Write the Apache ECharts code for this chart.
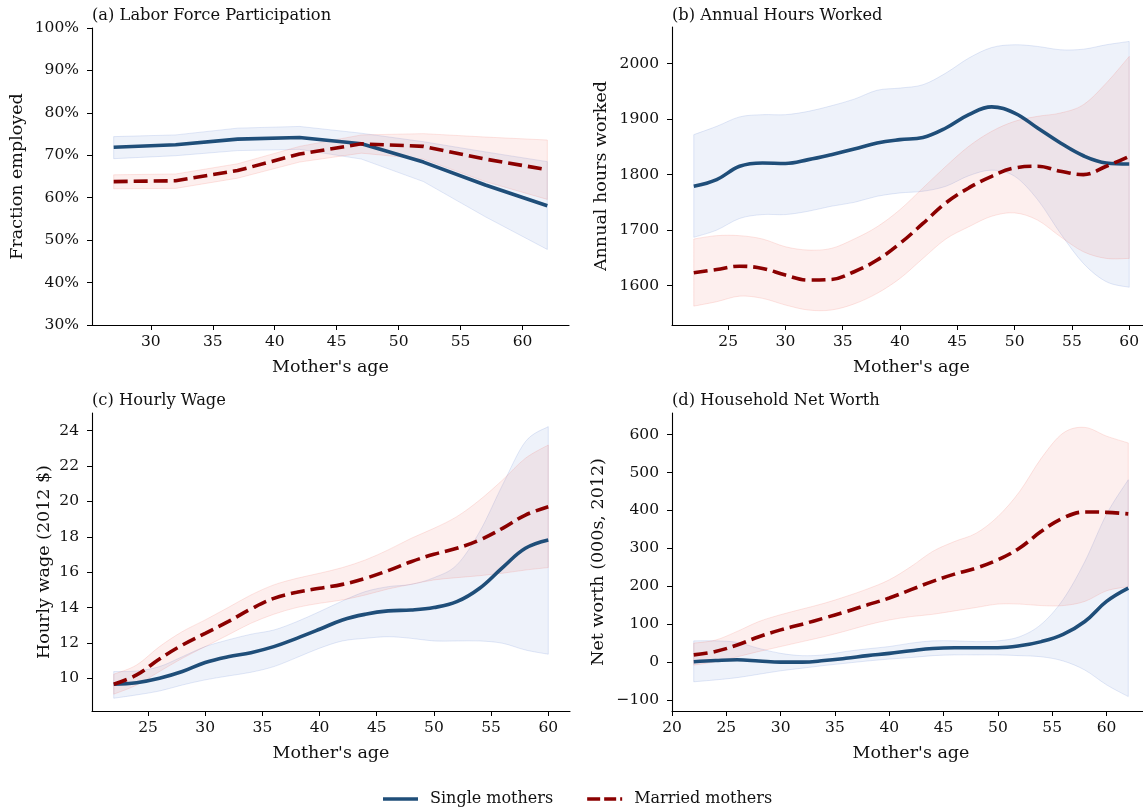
<!DOCTYPE html>
<html>
<head>
<meta charset="utf-8">
<script src="https://cdn.jsdelivr.net/npm/echarts@6/dist/echarts.min.js"></script>
<style>
  html, body { margin: 0; padding: 0; background: #fff; }
  #chart { width: 1143px; height: 809px; }
</style>
</head>
<body>
<div id="chart"></div>
<script>
// ---- (a) Labor force participation, percent, by mother's age ----
const agesA = [27, 32, 37, 42, 47, 52, 57, 62];
const lfpSingle   = [71.9, 72.5, 73.8, 74.2, 72.7, 68.4, 63.0, 58.1];
const lfpSingleLo = [69.2, 69.9, 71.1, 71.4, 69.1, 63.8, 55.5, 47.8];
const lfpSingleHi = [74.4, 74.8, 76.4, 76.8, 75.2, 73.2, 70.8, 68.5];
const lfpMarried   = [63.8, 64.0, 66.4, 70.3, 72.7, 72.1, 69.1, 66.6];
const lfpMarriedLo = [62.1, 62.2, 64.6, 68.4, 70.5, 69.1, 63.8, 59.6];
const lfpMarriedHi = [65.4, 65.6, 68.0, 72.1, 74.8, 75.1, 74.3, 73.6];

// ---- (b) Annual hours worked ----
const agesB = [22, 24, 26, 28, 30, 32, 34, 36, 38, 40, 42, 44, 46, 48, 50, 52, 54, 56, 58, 60];
const hoursSingle   = [1779, 1791, 1815, 1821, 1820, 1827, 1836, 1846, 1857, 1863, 1867, 1884, 1908, 1922, 1911, 1884, 1857, 1834, 1821, 1819];
const hoursSingleLo = [1687, 1700, 1721, 1728, 1728, 1734, 1743, 1750, 1761, 1767, 1770, 1779, 1798, 1808, 1797, 1755, 1694, 1640, 1607, 1597];
const hoursSingleHi = [1872, 1887, 1904, 1908, 1908, 1914, 1924, 1936, 1952, 1956, 1962, 1983, 2010, 2029, 2034, 2031, 2025, 2026, 2034, 2040];
const hoursMarried   = [1623, 1629, 1635, 1631, 1619, 1610, 1611, 1625, 1646, 1676, 1712, 1749, 1776, 1797, 1812, 1815, 1806, 1800, 1815, 1833];
const hoursMarriedLo = [1563, 1571, 1581, 1577, 1565, 1556, 1556, 1567, 1586, 1613, 1649, 1684, 1706, 1725, 1731, 1718, 1688, 1661, 1649, 1649];
const hoursMarriedHi = [1684, 1690, 1690, 1684, 1670, 1664, 1667, 1684, 1706, 1737, 1776, 1815, 1851, 1878, 1896, 1905, 1911, 1926, 1965, 2013];

// ---- (c) Hourly wage, 2012 dollars ----
const agesC = [22, 24, 26, 28, 30, 32, 34, 36, 38, 40, 42, 44, 46, 48, 50, 52, 54, 56, 58, 60];
const wageSingle   = [9.66, 9.75, 10.0, 10.38, 10.89, 11.22, 11.45, 11.79, 12.26, 12.77, 13.30, 13.62, 13.81, 13.86, 14.0, 14.33, 15.09, 16.26, 17.35, 17.82];
const wageSingleLo = [8.87, 9.06, 9.28, 9.62, 9.91, 10.13, 10.34, 10.66, 11.17, 11.70, 12.11, 12.26, 12.35, 12.26, 12.11, 12.11, 12.11, 11.98, 11.60, 11.36];
const wageSingleHi = [10.38, 10.41, 10.66, 11.22, 11.79, 12.17, 12.49, 12.73, 13.20, 13.77, 14.37, 14.90, 15.18, 15.31, 15.69, 16.41, 18.29, 20.93, 23.38, 24.23];
const wageMarried   = [9.66, 10.19, 11.09, 11.88, 12.54, 13.20, 13.92, 14.52, 14.86, 15.09, 15.31, 15.65, 16.09, 16.59, 17.01, 17.35, 17.82, 18.48, 19.23, 19.70];
const wageMarriedLo = [9.10, 9.62, 10.38, 11.13, 11.79, 12.45, 13.11, 13.62, 14.0, 14.24, 14.43, 14.71, 15.05, 15.31, 15.56, 15.69, 15.80, 15.94, 16.12, 16.26];
const wageMarriedHi = [10.23, 10.75, 11.79, 12.64, 13.30, 14.0, 14.71, 15.28, 15.65, 15.94, 16.26, 16.69, 17.26, 17.91, 18.48, 19.14, 20.08, 21.21, 22.44, 23.19];

// ---- (d) Household net worth, thousands of 2012 dollars ----
const agesD = [22, 24, 26, 28, 30, 32, 34, 36, 38, 40, 42, 44, 46, 48, 50, 52, 54, 56, 58, 60, 62];
const worthSingle   = [1, 4, 6, 3, 0, 0, 4, 10, 17, 23, 30, 36, 38, 38, 38, 43, 54, 73, 107, 160, 195];
const worthSingleLo = [-52, -47, -41, -32, -23, -16, -9, -3, 3, 8, 12, 17, 19, 19, 19, 17, 14, 3, -21, -60, -91];
const worthSingleHi = [56, 56, 52, 36, 23, 17, 19, 28, 35, 41, 50, 56, 56, 54, 56, 67, 100, 165, 265, 390, 481];
const worthMarried   = [19, 28, 45, 67, 85, 100, 116, 133, 151, 169, 191, 213, 232, 248, 270, 301, 345, 380, 396, 395, 391];
const worthMarriedLo = [-8, 1, 14, 28, 41, 54, 67, 82, 98, 111, 120, 126, 135, 144, 153, 153, 149, 149, 160, 188, 199];
const worthMarriedHi = [50, 58, 81, 107, 125, 140, 155, 173, 193, 217, 252, 292, 318, 340, 384, 450, 538, 604, 619, 596, 578];

// ---- tick values ----
const ticksXA = [30, 35, 40, 45, 50, 55, 60];
const ticksXB = [25, 30, 35, 40, 45, 50, 55, 60];
const ticksXD = [20, 25, 30, 35, 40, 45, 50, 55, 60];
const ticksYA = [30, 40, 50, 60, 70, 80, 90, 100];
const ticksYB = [1600, 1700, 1800, 1900, 2000];
const ticksYC = [10, 12, 14, 16, 18, 20, 22, 24];
const ticksYD = [-100, 0, 100, 200, 300, 400, 500, 600];

const titles = ['(a) Labor Force Participation', '(b) Annual Hours Worked', '(c) Hourly Wage', '(d) Household Net Worth'];
const yNames = ['Fraction employed', 'Annual hours worked', 'Hourly wage (2012 $)', 'Net worth (000s, 2012)'];

const FONT = "'DejaVu Serif', serif";
const BLUE = '#1f4e79';
const RED = '#8b0000';
const BLUE_FILL = 'rgba(70, 110, 200, 0.09)';
const BLUE_EDGE = 'rgba(70, 110, 200, 0.15)';
const RED_FILL = 'rgba(240, 100, 90, 0.10)';
const RED_EDGE = 'rgba(240, 100, 90, 0.16)';

const pairs = (xs, ys) => xs.map((x, i) => [x, ys[i]]);
const minus = v => (v < 0 ? '\u2212' + Math.abs(v) : String(v));

// Path through pixel points: straight segments, or Catmull-Rom curves when smooth.
function tracePath(pts, smooth, start) {
  let d = (start ? 'M' : 'L') + pts[0][0] + ',' + pts[0][1];
  for (let i = 0; i < pts.length - 1; i++) {
    const p0 = pts[i - 1] || pts[i], p1 = pts[i], p2 = pts[i + 1], p3 = pts[i + 2] || pts[i + 1];
    if (!smooth) { d += 'L' + p2[0] + ',' + p2[1]; continue; }
    const c1 = [p1[0] + (p2[0] - p0[0]) / 6, p1[1] + (p2[1] - p0[1]) / 6];
    const c2 = [p2[0] - (p3[0] - p1[0]) / 6, p2[1] - (p3[1] - p1[1]) / 6];
    d += 'C' + c1[0] + ',' + c1[1] + ',' + c2[0] + ',' + c2[1] + ',' + p2[0] + ',' + p2[1];
  }
  return d;
}

// Confidence band between lo and hi, drawn as one filled shape.
function band(idx, xs, lo, hi, fill, edge, smooth) {
  return {
    type: 'custom', xAxisIndex: idx, yAxisIndex: idx, silent: true, z: 1, clip: true,
    data: xs.map((x, i) => [x, lo[i], hi[i]]),
    encode: { x: 0, y: [1, 2] },
    renderItem: (params, api) => {
      if (params.dataIndex !== 0) return null;
      const upper = xs.map((x, i) => api.coord([x, hi[i]]));
      const lower = xs.map((x, i) => api.coord([x, lo[i]])).reverse();
      const d = tracePath(upper, smooth, true) + tracePath(lower, smooth, false) + 'Z';
      return { type: 'path', shape: { pathData: d }, style: { fill: fill, stroke: edge, lineWidth: 1 } };
    }
  };
}

function curve(idx, xs, ys, single, smooth) {
  return {
    name: single ? 'Single mothers' : 'Married mothers',
    type: 'line', xAxisIndex: idx, yAxisIndex: idx, symbol: 'none', smooth: smooth, z: single ? 3 : 4,
    data: pairs(xs, ys),
    lineStyle: single
      ? { color: BLUE, width: 3.6 }
      : { color: RED, width: 3.6, type: [14, 6], cap: 'butt' },
    itemStyle: { color: single ? BLUE : RED }
  };
}

const gridBoxes = [
  { left: 92, top: 28, width: 477, height: 297 },
  { left: 672, top: 27, width: 479, height: 298 },
  { left: 92, top: 413, width: 478, height: 298 },
  { left: 672, top: 413, width: 478, height: 298 }
];
const xRanges = [[25.25, 63.75], [20.1, 61.9], [20.1, 61.9], [20, 64]];
const yRanges = [[30, 100], [1529, 2066], [8.15, 25.0], [-129, 657]];
const xTicks = [ticksXA, ticksXB, ticksXB, ticksXD];
const yTicks = [ticksYA, ticksYB, ticksYC, ticksYD];
const yFormat = [v => v + '%', v => String(v), v => String(v), minus];
const yNameGaps = [66, 62, 39, 65];

const tickLabel = { fontFamily: FONT, fontSize: 15.5, color: '#111' };
const nameStyle = { fontFamily: FONT, fontSize: 17.5, color: '#111' };

const xAxes = gridBoxes.map((g, i) => ({
  type: 'value', gridIndex: i, min: xRanges[i][0], max: xRanges[i][1],
  name: "Mother's age", nameLocation: 'middle', nameGap: 33, nameTextStyle: nameStyle,
  axisLine: { show: true, onZero: false, lineStyle: { color: '#000', width: 1.1 } },
  axisTick: { show: true, length: 5, customValues: xTicks[i], lineStyle: { color: '#000', width: 1 } },
  axisLabel: Object.assign({ margin: 9, customValues: xTicks[i], formatter: v => String(v) }, tickLabel),
  splitLine: { show: false }
}));

const yAxes = gridBoxes.map((g, i) => ({
  type: 'value', gridIndex: i, min: yRanges[i][0], max: yRanges[i][1],
  name: yNames[i], nameLocation: 'middle', nameGap: yNameGaps[i], nameRotate: 90, nameTextStyle: nameStyle,
  axisLine: { show: true, onZero: false, lineStyle: { color: '#000', width: 1.1 } },
  axisTick: { show: true, length: 5, customValues: yTicks[i], lineStyle: { color: '#000', width: 1 } },
  axisLabel: Object.assign({ margin: 13, customValues: yTicks[i], formatter: yFormat[i] }, tickLabel),
  splitLine: { show: false }
}));

const series = [].concat(
  band(0, agesA, lfpSingleLo, lfpSingleHi, BLUE_FILL, BLUE_EDGE, false),
  band(0, agesA, lfpMarriedLo, lfpMarriedHi, RED_FILL, RED_EDGE, false),
  [curve(0, agesA, lfpSingle, true, false), curve(0, agesA, lfpMarried, false, false)],
  band(1, agesB, hoursSingleLo, hoursSingleHi, BLUE_FILL, BLUE_EDGE, true),
  band(1, agesB, hoursMarriedLo, hoursMarriedHi, RED_FILL, RED_EDGE, true),
  [curve(1, agesB, hoursSingle, true, 0.4), curve(1, agesB, hoursMarried, false, 0.4)],
  band(2, agesC, wageSingleLo, wageSingleHi, BLUE_FILL, BLUE_EDGE, true),
  band(2, agesC, wageMarriedLo, wageMarriedHi, RED_FILL, RED_EDGE, true),
  [curve(2, agesC, wageSingle, true, 0.4), curve(2, agesC, wageMarried, false, 0.4)],
  band(3, agesD, worthSingleLo, worthSingleHi, BLUE_FILL, BLUE_EDGE, true),
  band(3, agesD, worthMarriedLo, worthMarriedHi, RED_FILL, RED_EDGE, true),
  [curve(3, agesD, worthSingle, true, 0.4), curve(3, agesD, worthMarried, false, 0.4)]
);

const titleComps = gridBoxes.map((g, i) => ({
  text: titles[i], left: g.left, top: i < 2 ? 8 : 393, padding: 0,
  textStyle: { fontFamily: FONT, fontSize: 16.3, fontWeight: 'normal', color: '#111' }
}));

const chart = echarts.init(document.getElementById('chart'), null, { renderer: 'canvas' });
chart.setOption({
  animation: false,
  backgroundColor: '#fff',
  title: titleComps,
  grid: gridBoxes.map(g => Object.assign({ containLabel: false, outerBoundsMode: 'none' }, g)),
  xAxis: xAxes,
  yAxis: yAxes,
  legend: {
    data: [
      { name: 'Single mothers', icon: 'rect' },
      { name: 'Married mothers', icon: 'path://M0,0h13v1h-13z M17,0h12v1h-12z M33,0h2v1h-2z' }
    ],
    left: 383, top: 791, padding: 0, itemWidth: 35, itemHeight: 3.6, itemGap: 34, symbolKeepAspect: false,
    itemStyle: { borderWidth: 0 },
    textStyle: { fontFamily: FONT, fontSize: 16, color: '#111', padding: [0, 0, 0, 7] }
  },
  series: series
});
</script>
</body>
</html>
